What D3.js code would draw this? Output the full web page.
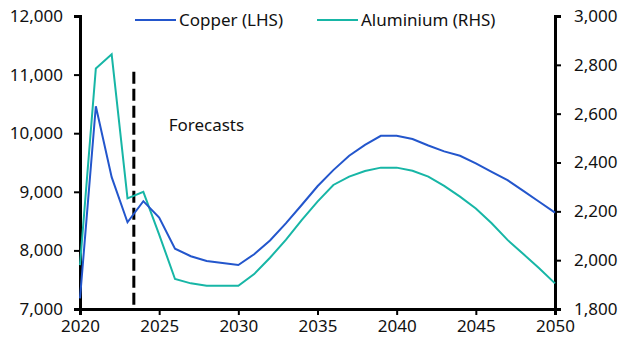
<!DOCTYPE html>
<html>
<head>
<meta charset="utf-8">
<script src="https://cdn.jsdelivr.net/npm/d3@7"></script>
<style>
  body { margin: 0; background: #fff; }
  text { font-family: "Noto Sans", sans-serif; fill: #111; }
</style>
</head>
<body>
<svg id="chart" width="627" height="353"></svg>
<script>
/* data */
const years = d3.range(2020, 2051);
const copper = [7180, 10460, 9250, 8480, 8840, 8560, 8030, 7900, 7820, 7785, 7750,
  7935, 8170, 8460, 8775, 9095, 9370, 9615, 9800, 9955, 9955,
  9900, 9790, 9690, 9615, 9485, 9340, 9200, 9015, 8830, 8645];
const aluminium = [1980, 2785, 2843, 2253, 2280, 2105, 1923, 1905, 1895, 1895, 1895,
  1943, 2010, 2083, 2164, 2240, 2308, 2342, 2365, 2379, 2379,
  2366, 2342, 2304, 2260, 2212, 2151, 2083, 2025, 1967, 1905];
const xTicks = [2020, 2025, 2030, 2035, 2040, 2045, 2050];
const leftTicks = [7000, 8000, 9000, 10000, 11000, 12000];
const rightTicks = [1800, 2000, 2200, 2400, 2600, 2800, 3000];
const forecastYear = 2023.4;

const cs = {
  palette: { copper: '#2356cc', aluminium: '#17b6a6' },
  margin: { left: 80, right: 72, top: 16, bottom: 44 },
  fontSize: '17px',
};

const svg = d3.select('#chart');
const width = 627, height = 353;

const x = d3.scaleLinear().domain([2020, 2050])
  .range([cs.margin.left, width - cs.margin.right]);
const yL = d3.scaleLinear().domain([7000, 12000])
  .range([height - cs.margin.bottom, cs.margin.top]);
const yR = d3.scaleLinear().domain([1800, 3000])
  .range([height - cs.margin.bottom, cs.margin.top]);

const fmt = d3.format(',');

// axes
const styleAxis = g => {
  g.select('.domain').attr('stroke', '#000').attr('stroke-width', 3).attr('fill', 'none');
  g.selectAll('.tick line').attr('stroke', '#000').attr('stroke-width', 2);
  g.selectAll('.tick text').style('font-size', cs.fontSize).attr('fill', '#111');
};

svg.append('g')
  .attr('transform', `translate(${cs.margin.left},0)`)
  .call(d3.axisLeft(yL).tickValues(leftTicks).tickFormat(fmt).tickSizeOuter(0).tickSize(6).tickPadding(11))
  .call(styleAxis);

svg.append('g')
  .attr('transform', `translate(${width - cs.margin.right},0)`)
  .call(d3.axisRight(yR).tickValues(rightTicks).tickFormat(fmt).tickSizeOuter(0).tickSize(6).tickPadding(13))
  .call(styleAxis);

svg.append('g')
  .attr('transform', `translate(0,${height - cs.margin.bottom})`)
  .call(d3.axisBottom(x).tickValues(xTicks).tickFormat(d3.format('d')).tickSizeOuter(0).tickSize(6).tickPadding(5))
  .call(styleAxis);

// forecast divider
svg.append('line')
  .attr('x1', x(forecastYear)).attr('x2', x(forecastYear))
  .attr('y1', yL(11050)).attr('y2', yL(7000))
  .attr('stroke', '#000').attr('stroke-width', 3)
  .attr('stroke-dasharray', '12,5');

svg.append('text')
  .attr('x', x(2025.6)).attr('y', 131)
  .style('font-size', cs.fontSize)
  .text('Forecasts');

// series
const lineL = d3.line().x((d, i) => x(years[i])).y(d => yL(d));
const lineR = d3.line().x((d, i) => x(years[i])).y(d => yR(d));

svg.append('path').datum(aluminium)
  .attr('d', lineR).attr('fill', 'none')
  .attr('stroke', cs.palette.aluminium).attr('stroke-width', 2);

svg.append('path').datum(copper)
  .attr('d', lineL).attr('fill', 'none')
  .attr('stroke', cs.palette.copper).attr('stroke-width', 2);

// legend
const legend = [
  { label: 'Copper (LHS)', color: cs.palette.copper, x: 135 },
  { label: 'Aluminium (RHS)', color: cs.palette.aluminium, x: 317 },
];
const lg = svg.append('g').selectAll('g').data(legend).join('g')
  .attr('transform', d => `translate(${d.x},20)`);
lg.append('line').attr('x1', 0).attr('x2', 41).attr('y1', 0).attr('y2', 0)
  .attr('stroke', d => d.color).attr('stroke-width', 2);
lg.append('text').attr('x', 44).attr('y', 6)
  .style('font-size', cs.fontSize)
  .text(d => d.label);
</script>
</body>
</html>
